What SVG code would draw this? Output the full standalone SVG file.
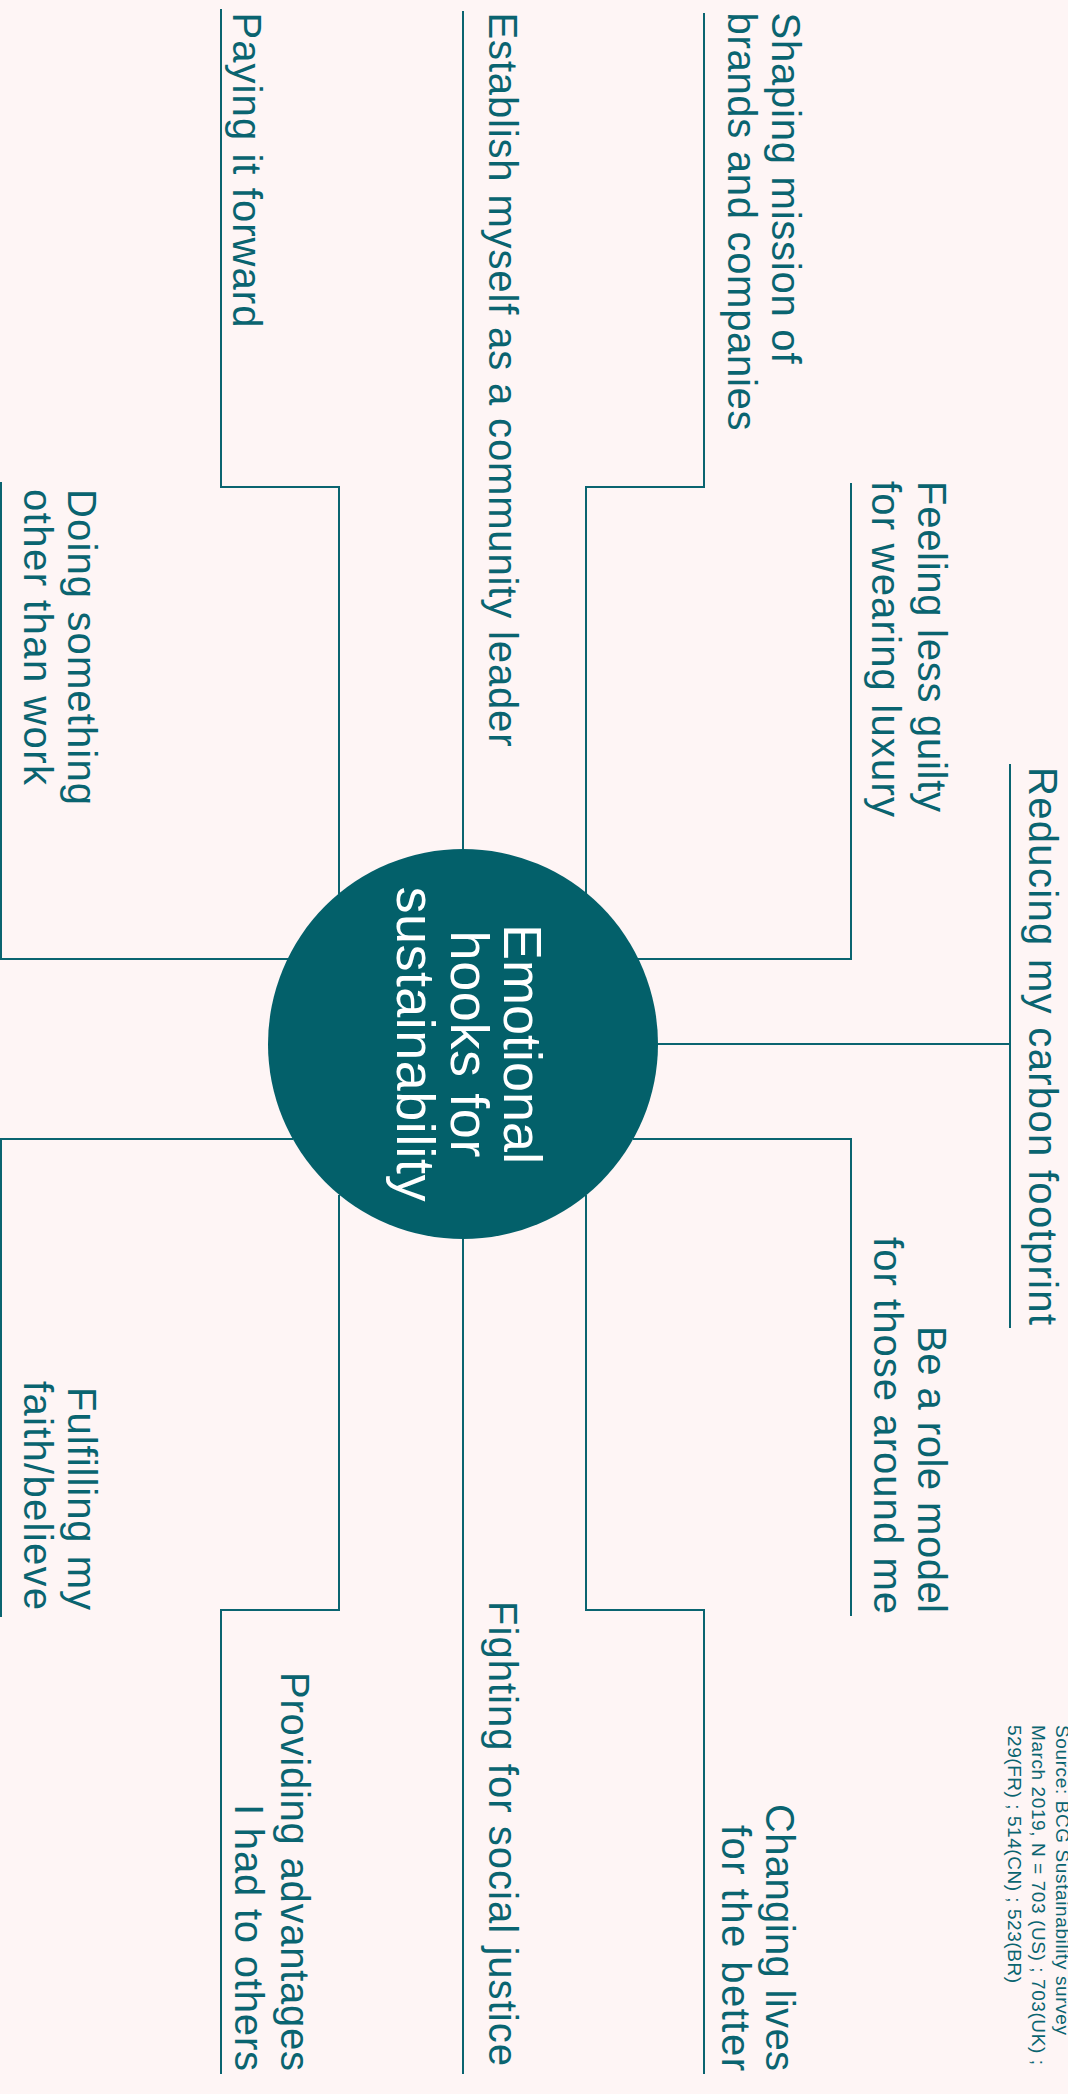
<svg xmlns="http://www.w3.org/2000/svg" width="1068" height="2094" viewBox="0 0 1068 2094">
<style>
.bg{fill:#fef5f5}
.ln{fill:none;stroke:#0a6470;stroke-width:2}
.lb{font-family:"Liberation Sans",Arial,sans-serif;font-size:40px;fill:#0a6470}
.ct{font-family:"Liberation Sans",Arial,sans-serif;font-size:54px;fill:#ffffff;text-anchor:middle}
.src{font-family:"Liberation Sans",Arial,sans-serif;font-size:19px;fill:#0a6470}
.end{text-anchor:end}
</style>
<rect class="bg" x="0" y="0" width="1068" height="2094"/>
<g id="connectors">
<path class="ln" d="M339,894 V487 H221 V9"/>
<path class="ln" d="M463,850 V11"/>
<path class="ln" d="M586,894 V487 H704 V13"/>
<path class="ln" d="M638,959 H851 V483"/>
<path class="ln" d="M288,959 H1 V482"/>
<path class="ln" d="M658,1044 H1010"/>
<path class="ln" d="M1010,764 V1328"/>
<path class="ln" d="M633,1139 H851 V1616"/>
<path class="ln" d="M293,1139 H1 V1617"/>
<path class="ln" d="M339,1195 V1610 H221 V2074"/>
<path class="ln" d="M463,1238 V2074"/>
<path class="ln" d="M586,1195 V1610 H704 V2074"/>
</g>
<g id="center">
<circle cx="463" cy="1044" r="195" fill="#03606a"/>
<text class="ct" transform="translate(504,1044) rotate(90)" textLength="240" lengthAdjust="spacing">Emotional</text>
<text class="ct" transform="translate(451,1044) rotate(90)" textLength="227" lengthAdjust="spacing">hooks for</text>
<text class="ct" transform="translate(397,1044) rotate(90)" textLength="315" lengthAdjust="spacing">sustainability</text>
</g>
<g id="paying">
<text class="lb" transform="translate(233,12.5) rotate(90)" textLength="315" lengthAdjust="spacing">Paying it forward</text>
</g>
<g id="establish">
<text class="lb" transform="translate(489,12.5) rotate(90)" textLength="734" lengthAdjust="spacing">Establish myself as a community leader</text>
</g>
<g id="shaping">
<text class="lb" transform="translate(772,12.5) rotate(90)" textLength="351" lengthAdjust="spacing">Shaping mission of</text>
<text class="lb" transform="translate(727.5,12.5) rotate(90)" textLength="418" lengthAdjust="spacing">brands and companies</text>
</g>
<g id="feeling">
<text class="lb" transform="translate(917.6,481) rotate(90)" textLength="331" lengthAdjust="spacing">Feeling less guilty</text>
<text class="lb" transform="translate(872,481) rotate(90)" textLength="336" lengthAdjust="spacing">for wearing luxury</text>
</g>
<g id="doing">
<text class="lb" transform="translate(68,489) rotate(90)" textLength="316" lengthAdjust="spacing">Doing something</text>
<text class="lb" transform="translate(24,489) rotate(90)" textLength="296" lengthAdjust="spacing">other than work</text>
</g>
<g id="reducing">
<text class="lb" transform="translate(1029,767) rotate(90)" textLength="558" lengthAdjust="spacing">Reducing my carbon footprint</text>
</g>
<g id="rolemodel">
<text class="lb end" transform="translate(917.6,1613) rotate(90)" textLength="287" lengthAdjust="spacing">Be a role model</text>
<text class="lb end" transform="translate(874,1614) rotate(90)" textLength="377" lengthAdjust="spacing">for those around me</text>
</g>
<g id="fulfilling">
<text class="lb end" transform="translate(68,1610) rotate(90)" textLength="223" lengthAdjust="spacing">Fulfilling my</text>
<text class="lb end" transform="translate(24,1610) rotate(90)" textLength="229" lengthAdjust="spacing">faith/believe</text>
</g>
<g id="providing">
<text class="lb end" transform="translate(281,2071) rotate(90)" textLength="399" lengthAdjust="spacing">Providing advantages</text>
<text class="lb end" transform="translate(235,2071) rotate(90)" textLength="267" lengthAdjust="spacing">I had to others</text>
</g>
<g id="fighting">
<text class="lb" transform="translate(489,1601) rotate(90)" textLength="465" lengthAdjust="spacing">Fighting for social justice</text>
</g>
<g id="changing">
<text class="lb end" transform="translate(766,2071) rotate(90)" textLength="267" lengthAdjust="spacing">Changing lives</text>
<text class="lb end" transform="translate(722,2071) rotate(90)" textLength="246" lengthAdjust="spacing">for the better</text>
</g>
<g id="source">
<text class="src" transform="translate(1056,1725) rotate(90)" textLength="310" lengthAdjust="spacing">Source: BCG Sustainability survey</text>
<text class="src" transform="translate(1032,1725) rotate(90)" textLength="340" lengthAdjust="spacing">March 2019, N = 703 (US) ; 703(UK) ;</text>
<text class="src" transform="translate(1008,1725) rotate(90)" textLength="258" lengthAdjust="spacing">529(FR) ; 514(CN) ; 523(BR)</text>
</g>
</svg>
